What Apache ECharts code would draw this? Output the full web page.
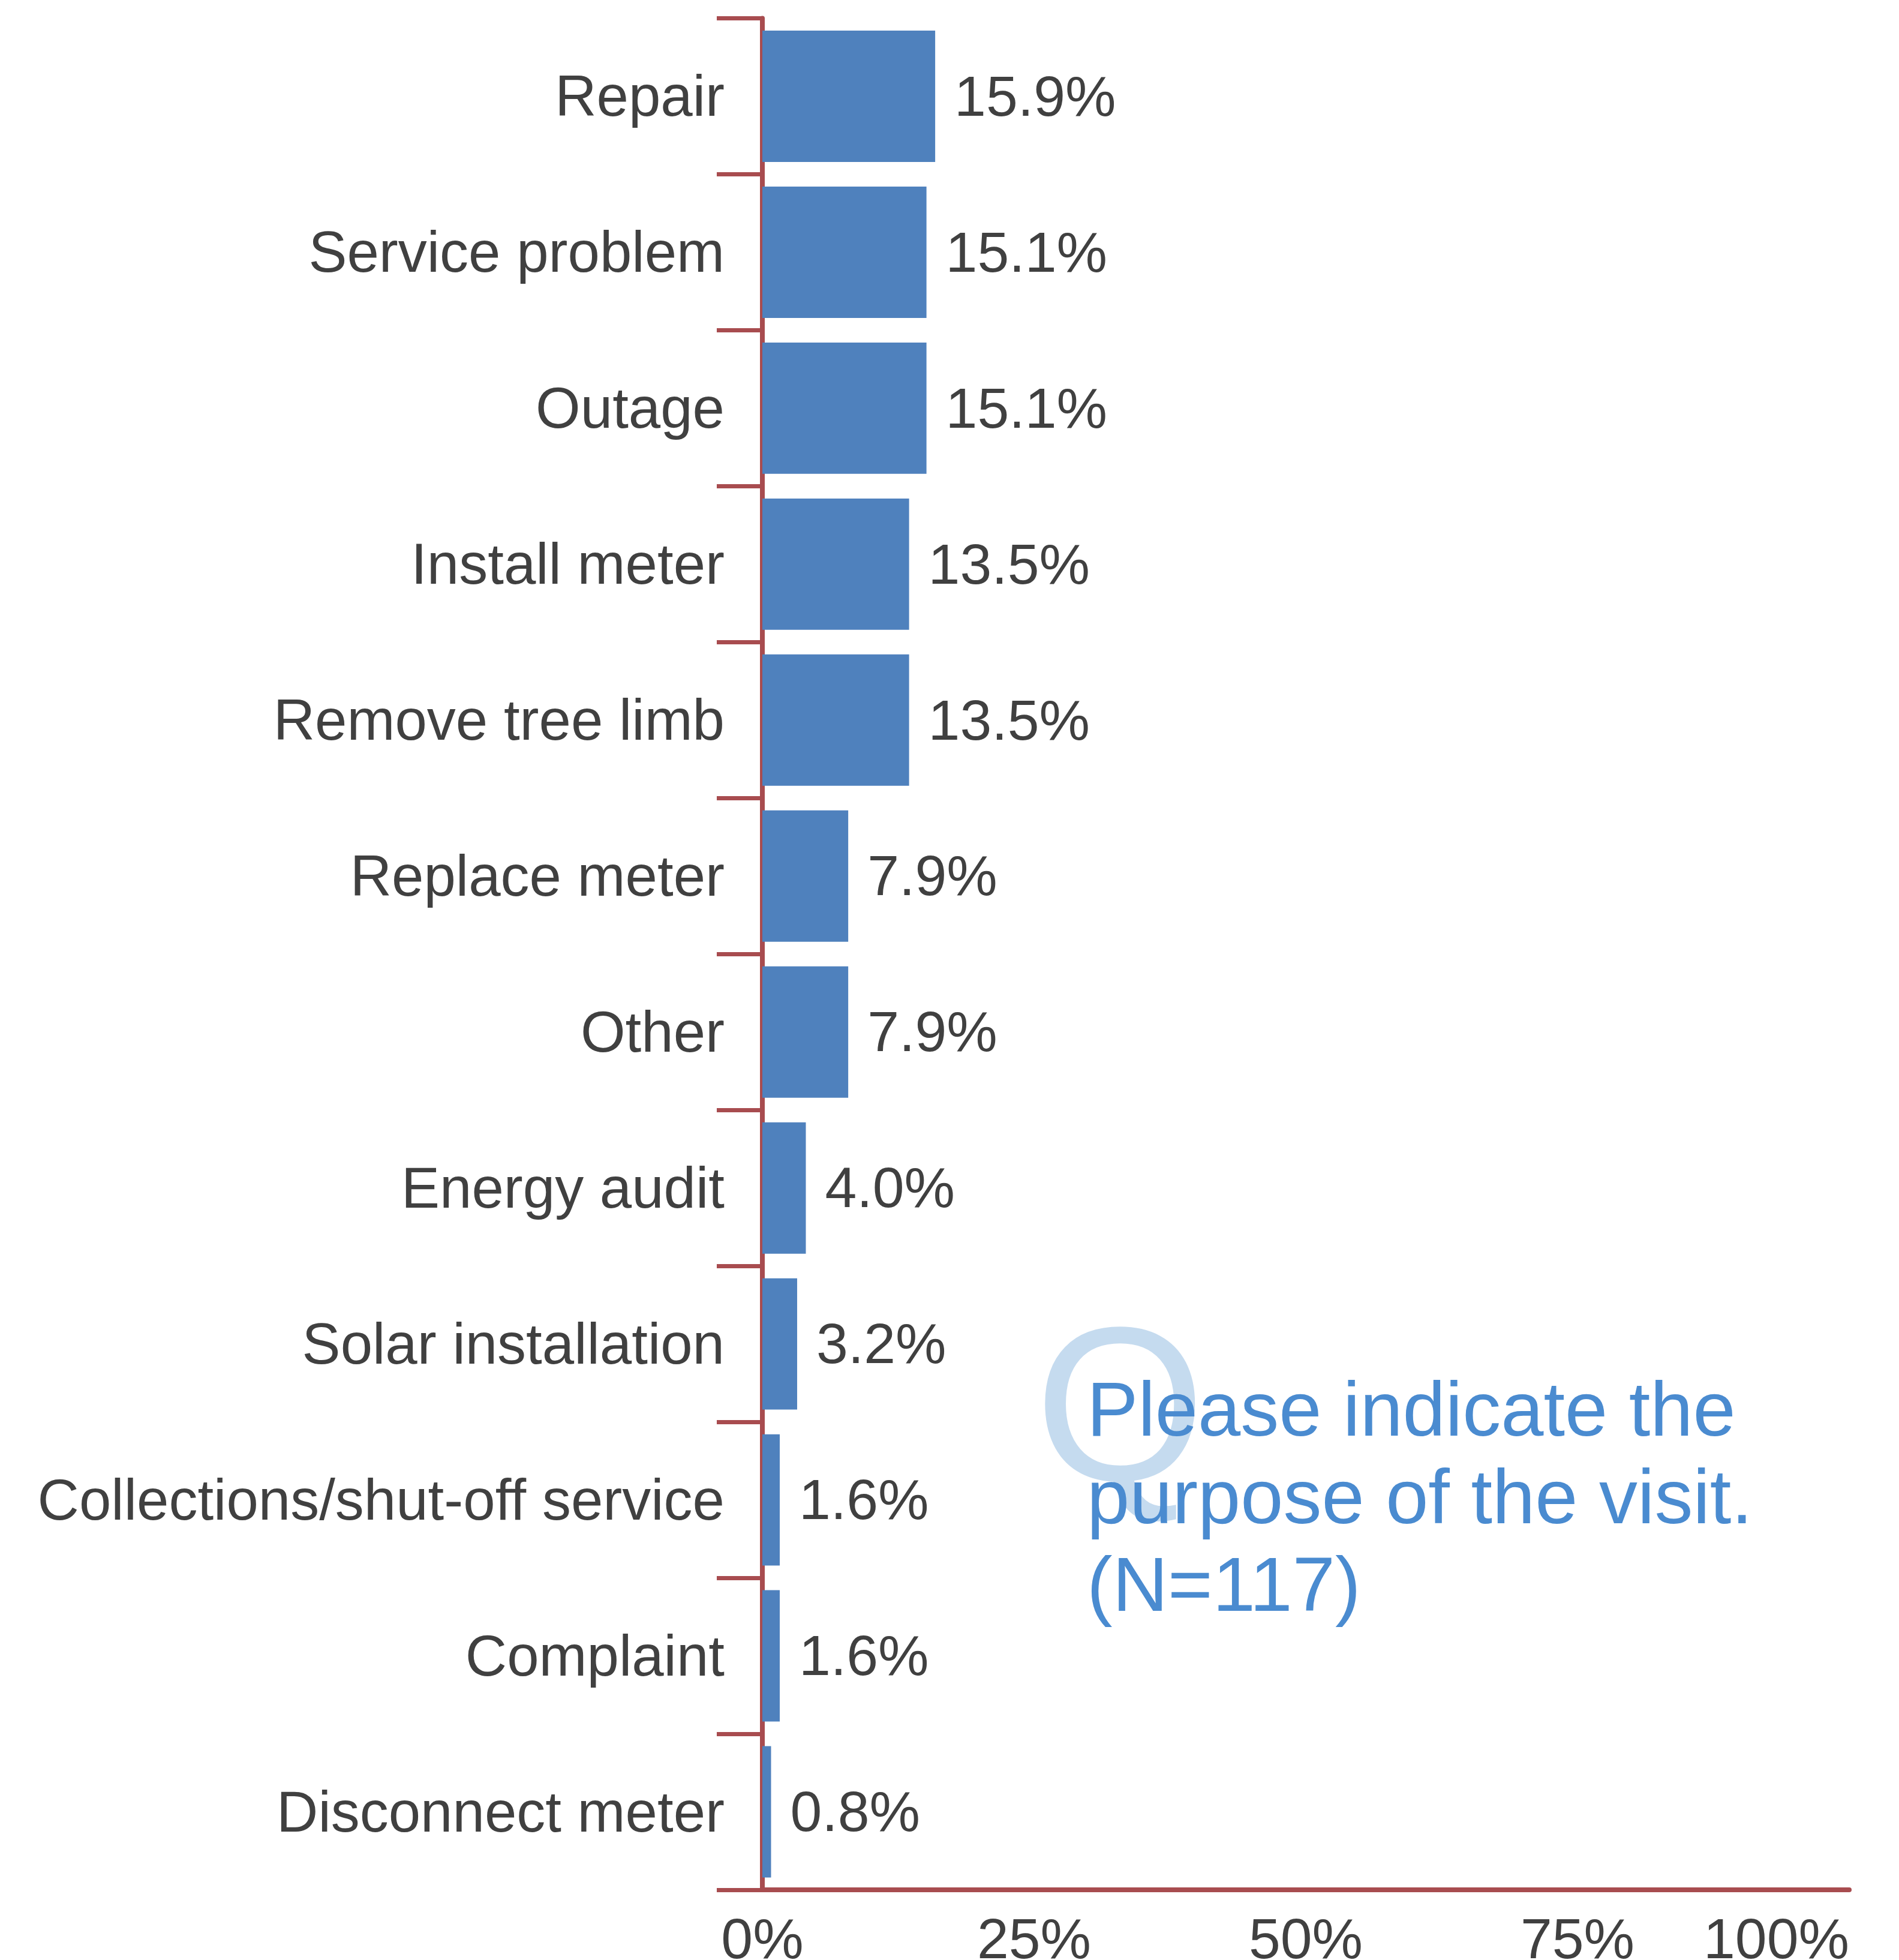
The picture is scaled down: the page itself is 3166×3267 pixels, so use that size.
<!DOCTYPE html>
<html>
<head>
<meta charset="utf-8">
<title>Purpose of the visit</title>
<script src="https://cdn.jsdelivr.net/npm/echarts@6/dist/echarts.min.js"></script>
<style>
  html, body { margin: 0; padding: 0; background: #ffffff; }
  #chart { width: 3166px; height: 3267px; }
</style>
</head>
<body>
<div id="chart"></div>
<script>
// Visit purposes, listed top to bottom
const categories = [
  'Repair',
  'Service problem',
  'Outage',
  'Install meter',
  'Remove tree limb',
  'Replace meter',
  'Other',
  'Energy audit',
  'Solar installation',
  'Collections/shut-off service',
  'Complaint',
  'Disconnect meter'
];

// Share of respondents, percent
const shares = [15.9, 15.1, 15.1, 13.5, 13.5, 7.9, 7.9, 4.0, 3.2, 1.6, 1.6, 0.8];

// Percent axis ticks
const xTicks = [0, 25, 50, 75, 100];

// Question text
const questionLines = ['Please indicate the', 'purpose of the visit.', '(N=117)'];

const FONT = "'Liberation Sans', Arial, sans-serif";
const AXIS_RED = '#a84c4f';
const BAR_BLUE = '#4f81bd';
const TEXT_GRAY = '#404040';
const Q_BLUE = '#4a8bd0';

const chart = echarts.init(document.getElementById('chart'), null, { renderer: 'canvas' });

chart.setOption({
  animation: false,
  backgroundColor: '#ffffff',
  textStyle: { fontFamily: FONT },
  grid: {
    left: 1271, right: 83, top: 30.5, bottom: 117,
    containLabel: false,
    outerBoundsMode: 'none'
  },
  xAxis: {
    type: 'value',
    min: xTicks[0],
    max: xTicks[xTicks.length - 1],
    interval: xTicks[1] - xTicks[0],
    splitLine: { show: false },
    axisTick: { show: false },
    axisLine: { show: true, lineStyle: { color: AXIS_RED, width: 8 } },
    axisLabel: {
      show: true,
      fontFamily: FONT,
      fontSize: 95,
      color: TEXT_GRAY,
      margin: 40,
      alignMaxLabel: 'right',
      formatter: '{value}%'
    }
  },
  yAxis: {
    type: 'category',
    data: categories,
    inverse: true,
    axisLine: { show: true, lineStyle: { color: AXIS_RED, width: 8 } },
    axisTick: {
      show: true,
      alignWithLabel: false,
      length: 76,
      lineStyle: { color: AXIS_RED, width: 7 }
    },
    axisLabel: {
      fontFamily: FONT,
      fontSize: 96,
      color: TEXT_GRAY,
      margin: 63,
      // label line sits just below the band centre
      verticalAlign: 'top',
      lineHeight: 13
    },
    splitLine: { show: false }
  },
  series: [{
    type: 'bar',
    data: shares,
    barCategoryGap: '15.8%',
    itemStyle: { color: BAR_BLUE },
    z: 1,
    label: {
      show: true,
      position: 'right',
      distance: 32,
      offset: [0, 6],
      fontFamily: FONT,
      fontSize: 95,
      color: TEXT_GRAY,
      formatter: p => p.value.toFixed(1) + '%'
    }
  }],
  graphic: [
    {
      type: 'text',
      z: 0,
      left: 1725,
      top: 2183,
      style: {
        text: 'Q',
        fontFamily: FONT,
        fontSize: 366,
        fill: '#c5dbef'
      }
    },
    {
      type: 'text',
      z: 10,
      left: 1812,
      top: 2285,
      style: {
        text: questionLines.join('\n'),
        fontFamily: FONT,
        fontSize: 128,
        lineHeight: 146,
        fill: Q_BLUE
      }
    }
  ]
});
</script>
</body>
</html>
